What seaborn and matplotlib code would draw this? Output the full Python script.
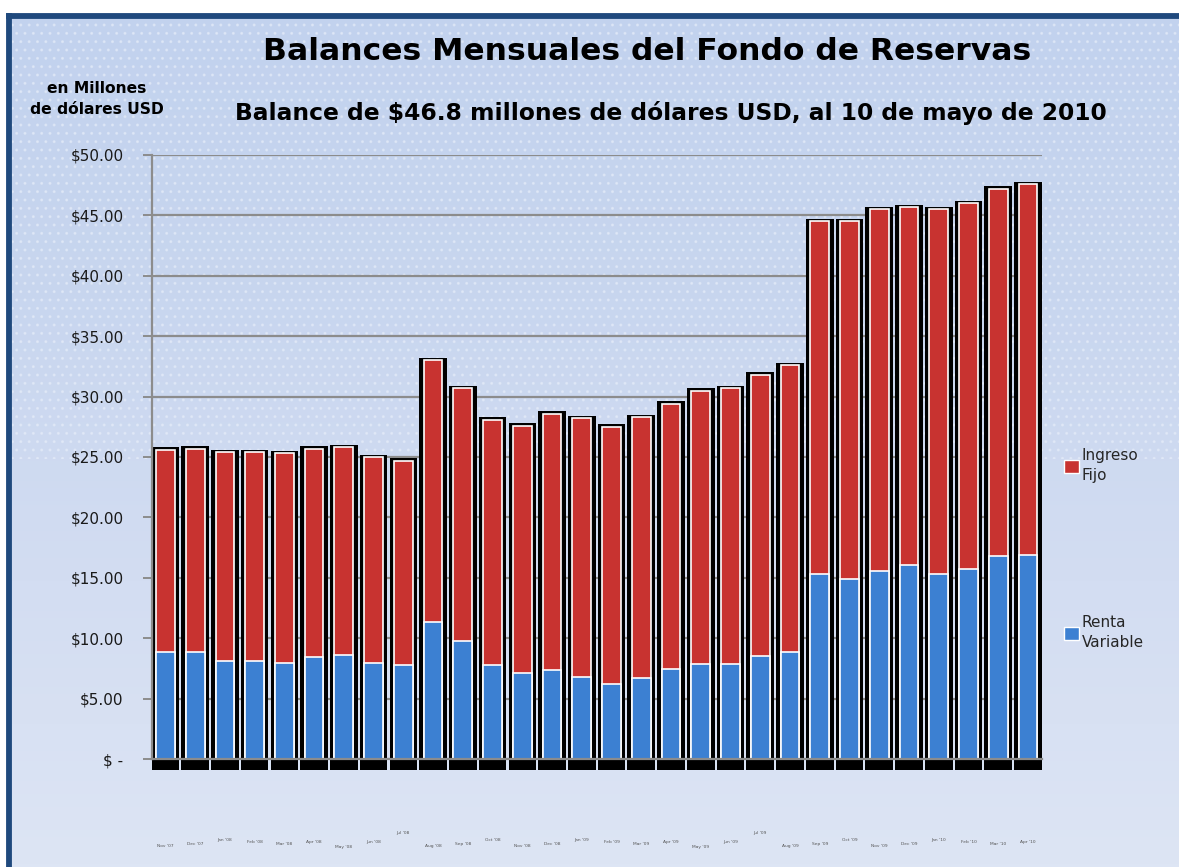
import numpy as np
import pandas as pd
import seaborn as sns
import matplotlib
matplotlib.use("Agg")
import matplotlib.pyplot as plt
from matplotlib.patches import Rectangle, Patch
from matplotlib.lines import Line2D
from matplotlib.ticker import FuncFormatter

# ---------------- data ----------------
months = ["Nov '07", "Dec '07", "Jan '08", "Feb '08", "Mar '08", "Apr '08",
          "May '08", "Jun '08", "Jul '08", "Aug '08", "Sep '08", "Oct '08",
          "Nov '08", "Dec '08", "Jan '09", "Feb '09", "Mar '09", "Apr '09",
          "May '09", "Jun '09", "Jul '09", "Aug '09", "Sep '09", "Oct '09",
          "Nov '09", "Dec '09", "Jan '10", "Feb '10", "Mar '10", "Apr '10"]
renta_variable = [8.84, 8.84, 8.09, 8.09, 7.96, 8.43, 8.59, 7.96, 7.79, 11.30,
                  9.80, 7.79, 7.13, 7.35, 6.77, 6.18, 6.70, 7.45, 7.86, 7.86,
                  8.55, 8.83, 15.35, 14.87, 15.60, 16.10, 15.35, 15.70, 16.80, 16.90]
ingreso_fijo = [16.76, 16.86, 17.31, 17.31, 17.34, 17.27, 17.21, 17.04, 16.91, 21.70,
                20.90, 20.31, 20.47, 21.25, 21.43, 21.32, 21.60, 21.95, 22.64, 22.84,
                23.25, 23.77, 29.15, 29.63, 29.90, 29.60, 30.15, 30.30, 30.40, 30.70]
series_names = ["Ingreso\nFijo", "Renta\nVariable"]
yticks = [0, 5, 10, 15, 20, 25, 30, 35, 40, 45, 50]

title = "Balances Mensuales del Fondo de Reservas"
subtitle = "Balance de $46.8 millones de dólares USD, al 10 de mayo de 2010"
ylabel = "en Millones\nde dólares USD"

df = pd.DataFrame({"mes": months, "rv": renta_variable, "if": ingreso_fijo})
df["total"] = df["rv"] + df["if"]

# ---------------- style ----------------
W, H = 1179, 867
RED = "#c83330"
BLUE = "#3c80d2"
GRID = "#8c8c8c"
FRAME = "#1f497d"

sns.set_theme(style="white")
plt.rcParams["font.family"] = ["DejaVu Sans"]

fig = plt.figure(figsize=(W / 100, H / 100), dpi=100)
fig.patch.set_facecolor("white")

# background gradient inside the frame
bg = fig.add_axes([10 / W, 0, 1 - 10 / W, 1 - 16 / H], zorder=-10)
grad = np.linspace(0, 1, 256).reshape(-1, 1)
cmap = matplotlib.colors.LinearSegmentedColormap.from_list(
    "bgc", ["#c2d2ee", "#c8d6ef", "#d3ddf2", "#dde5f4"])
bg.imshow(grad, aspect="auto", cmap=cmap, extent=[0, 1, 0, 1], origin="upper")
bg.add_patch(Rectangle((0, 0.48), 1, 0.52, facecolor="none", edgecolor="#e6edf9",
                       hatch="..", linewidth=0, alpha=0.55))
bg.set_xlim(0, 1)
bg.set_ylim(0, 1)
bg.axis("off")

# frame lines (top and left)
fig.add_artist(Line2D([9.5 / W, 1], [1 - 15.5 / H, 1 - 15.5 / H], color=FRAME, lw=4.2,
                      transform=fig.transFigure, solid_capstyle="projecting"))
fig.add_artist(Line2D([9.5 / W, 9.5 / W], [0, 1 - 15.5 / H], color=FRAME, lw=4.2,
                      transform=fig.transFigure, solid_capstyle="projecting"))

ax = fig.add_axes([152 / W, 1 - 759 / H, (1042 - 152) / W, (759 - 155) / H], zorder=1)
ax.set_facecolor("none")

pos = np.arange(len(months))
# black frames behind bars
ax.bar(pos, df["total"].values + 1.1, bottom=-0.9, width=0.93, color="black",
       zorder=2, clip_on=False, linewidth=0)

sns.barplot(data=df, x="mes", y="total", color=RED, width=0.63, saturation=1,
            edgecolor="white", linewidth=1.2, ax=ax, zorder=3)
sns.barplot(data=df, x="mes", y="rv", color=BLUE, width=0.63, saturation=1,
            edgecolor="white", linewidth=1.2, ax=ax, zorder=4)

ax.set_xlim(-0.45, len(months) - 0.53)
ax.set_ylim(0, 50)
ax.set_yticks(yticks)
ax.yaxis.set_major_formatter(FuncFormatter(lambda v, p: "$ -" if v == 0 else f"${v:.2f}"))
ax.yaxis.grid(True, color=GRID, linewidth=1.6)
ax.set_axisbelow(True)
for s in ["top", "right"]:
    ax.spines[s].set_visible(False)
ax.spines["left"].set_color(GRID)
ax.spines["left"].set_linewidth(1.6)
ax.spines["bottom"].set_color(GRID)
ax.spines["bottom"].set_linewidth(1.6)
ax.spines["bottom"].set_zorder(5)
ax.tick_params(axis="y", which="major", direction="out", length=6.5, width=1.4,
               color=GRID, labelsize=11, labelcolor="#1a1a1a", pad=14, left=True)
ax.tick_params(axis="x", length=0, labelsize=3.2, labelcolor="#555555", pad=0)
ax.set_xlabel("")
ax.set_ylabel("")

# tiny staggered month labels
month_offsets = {"Jan": -0.130, "Feb": -0.134, "Mar": -0.138, "Apr": -0.134,
                 "May": -0.143, "Jun": -0.134, "Jul": -0.120, "Aug": -0.140,
                 "Sep": -0.138, "Oct": -0.130, "Nov": -0.140, "Dec": -0.138}
ax.set_xticks(pos)
ax.set_xticklabels(months)
for lab in ax.get_xticklabels():
    lab.set_y(month_offsets[lab.get_text()[:3]])

# titles
fig.text(647 / W, 1 - 52 / H, title, ha="center", va="center", fontsize=22.6,
         fontweight="bold", color="black")
fig.text(671 / W, 1 - 113 / H, subtitle, ha="center", va="center", fontsize=16.8,
         fontweight="bold", color="black")
fig.text(97 / W, 1 - 99 / H, ylabel, ha="center", va="center", fontsize=11.2,
         fontweight="bold", color="black", linespacing=1.45)

# legend
handles = [Patch(facecolor=RED, edgecolor="white", linewidth=1.0),
           Patch(facecolor=BLUE, edgecolor="white", linewidth=1.0)]
leg = fig.legend(handles, series_names, loc="upper left",
                 bbox_to_anchor=(1064 / W, 1 - 448 / H), frameon=False, fontsize=11,
                 handlelength=0.95, handleheight=0.95, handletextpad=0.2,
                 labelspacing=8.6, borderaxespad=0, borderpad=0)
for t in leg.get_texts():
    t.set_linespacing(1.45)

fig.savefig("out.png", dpi=100, facecolor=fig.get_facecolor())
